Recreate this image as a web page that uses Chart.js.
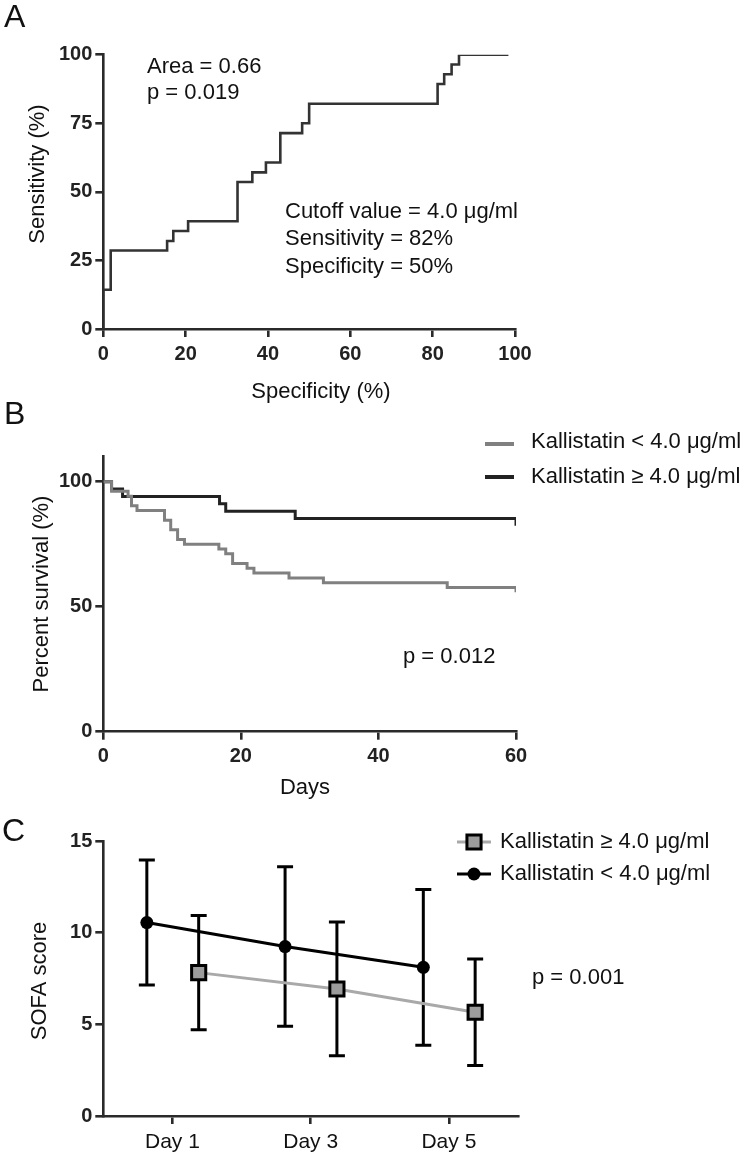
<!DOCTYPE html>
<html><head><meta charset="utf-8">
<script src="https://cdn.jsdelivr.net/npm/chart.js@4/dist/chart.umd.min.js"></script>
<style>
html,body{margin:0;padding:0;background:#fff;}
#wrap{position:relative;width:750px;height:1161px;overflow:hidden;background:#fff;}
#wrap canvas{position:absolute;left:0;top:0;}
</style></head><body>
<div id="wrap">
<canvas id="cA" width="750" height="1161"></canvas>
<canvas id="cB" width="750" height="1161"></canvas>
<canvas id="cC" width="750" height="1161"></canvas>
</div>
<script>
// ---------- Panel A: ROC curve ----------
const rocSpecificity = [0, 0, 1.8, 15.5, 17.0, 20.6, 32.6, 36.2, 39.5, 43.0, 48.3, 50.0, 81.2, 82.8, 84.6, 86.4, 98.4];
const rocSensitivity = [0, 14.3, 28.6, 32.1, 35.7, 39.3, 53.6, 57.1, 60.7, 71.4, 75.0, 82.1, 89.3, 92.9, 96.4, 100, 100];
const rocXTicks = [0, 20, 40, 60, 80, 100];
const rocYTicks = [0, 25, 50, 75, 100];

// ---------- Panel B: Kaplan-Meier ----------
const kmLowDays = [0, 1.2, 3.6, 4.1, 4.9, 8.9, 9.8, 10.8, 11.8, 16.8, 17.8, 18.8, 20.9, 21.9, 27.0, 32.0, 50.0, 60.0];
const kmLowSurv = [100, 96.2, 94.2, 90.4, 88.5, 84.6, 80.8, 76.9, 75.0, 73.1, 71.2, 67.3, 65.4, 63.5, 61.5, 59.6, 57.7, 55.8];
const kmHighDays = [0, 1.2, 2.8, 16.9, 17.8, 27.9, 60.0];
const kmHighSurv = [100, 97.1, 94.1, 91.2, 88.2, 85.3, 82.4];
const kmXTicks = [0, 20, 40, 60];
const kmYTicks = [0, 50, 100];

// ---------- Panel C: SOFA score ----------
const sofaDays = ['Day 1', 'Day 3', 'Day 5'];
const sofaHighMean = [7.82, 6.93, 5.66];
const sofaHighSD = [3.12, 3.65, 2.91];
const sofaLowMean = [10.55, 9.24, 8.11];
const sofaLowSD = [3.41, 4.35, 4.25];
const sofaYTicks = [0, 5, 10, 15];

// ---------- shared styling ----------
const FONT = '"Liberation Sans", Arial, Helvetica, sans-serif';
const AXIS = '#2a2a2a';
const W = 750, H = 1161;

function frame(area) {
  return {
    padding: { left: 0, top: area.top, right: W - area.right, bottom: 0 },
    yFit: s => { s.width = area.left; },
    xFit: s => { s.height = H - area.bottom; }
  };
}
function axis(extra) {
  return Object.assign({
    type: 'linear',
    border: { display: true, color: AXIS, width: 2.6 },
    grid: { drawOnChartArea: false, drawTicks: true, tickLength: 8, color: AXIS, lineWidth: 2.6 },
  }, extra);
}
function tickFont(bold, size) {
  return { family: FONT, size: size, weight: bold ? 'bold' : 'normal' };
}

const textLayer = {
  id: 'textLayer',
  afterDraw(chart, args, opts) {
    const ctx = chart.ctx;
    (opts.items || []).forEach(it => {
      ctx.save();
      ctx.font = it.font || ('22px ' + FONT);
      ctx.fillStyle = it.color || '#111';
      ctx.textAlign = it.align || 'left';
      ctx.textBaseline = 'middle';
      ctx.translate(it.x, it.y);
      if (it.rotate) ctx.rotate(it.rotate * Math.PI / 180);
      ctx.fillText(it.text, 0, 0);
      ctx.restore();
    });
  }
};

const legendLayer = {
  id: 'legendLayer',
  afterDraw(chart, args, opts) {
    const ctx = chart.ctx;
    (opts.items || []).forEach(it => {
      const ds = chart.data.datasets[it.dataset];
      ctx.save();
      ctx.strokeStyle = ds.borderColor;
      ctx.lineWidth = it.lineWidth || ds.borderWidth;
      ctx.beginPath();
      ctx.moveTo(it.x1, it.y); ctx.lineTo(it.x2, it.y);
      ctx.stroke();
      const cx = (it.x1 + it.x2) / 2;
      if (it.marker === 'rect') {
        const s = Math.SQRT1_2 * ds.pointRadius;
        ctx.fillStyle = ds.pointBackgroundColor;
        ctx.strokeStyle = ds.pointBorderColor;
        ctx.lineWidth = ds.pointBorderWidth;
        ctx.beginPath(); ctx.rect(cx - s, it.y - s, 2 * s, 2 * s); ctx.fill(); ctx.stroke();
      } else if (it.marker === 'circle') {
        ctx.fillStyle = ds.pointBackgroundColor;
        ctx.beginPath(); ctx.arc(cx, it.y, ds.pointRadius, 0, Math.PI * 2); ctx.fill();
      }
      ctx.fillStyle = '#111';
      ctx.font = '22px ' + FONT;
      ctx.textAlign = 'left';
      ctx.textBaseline = 'middle';
      ctx.fillText(it.text, it.tx, it.ty);
      ctx.restore();
    });
  }
};

const errorBars = {
  id: 'errorBars',
  beforeDatasetsDraw(chart, args, opts) {
    const ctx = chart.ctx, x = chart.scales.x, y = chart.scales.y;
    chart.data.datasets.forEach(ds => {
      if (!ds.errors) return;
      ctx.save();
      ctx.strokeStyle = opts.color; ctx.lineWidth = opts.width;
      ds.data.forEach((p, j) => {
        const px = x.getPixelForValue(p.x);
        const top = y.getPixelForValue(p.y + ds.errors[j]);
        const bot = y.getPixelForValue(p.y - ds.errors[j]);
        ctx.beginPath();
        ctx.moveTo(px, top); ctx.lineTo(px, bot);
        ctx.moveTo(px - opts.cap, top); ctx.lineTo(px + opts.cap, top);
        ctx.moveTo(px - opts.cap, bot); ctx.lineTo(px + opts.cap, bot);
        ctx.stroke();
      });
      ctx.restore();
    });
  }
};

const common = { responsive: false, animation: false, devicePixelRatio: 1, events: [] };
const noDefaults = { legend: { display: false }, tooltip: { enabled: false } };

// ---------- Chart A ----------
const fA = frame({ left: 103.3, right: 515, top: 54.7, bottom: 329 });
new Chart(document.getElementById('cA'), {
  type: 'line',
  data: {
    datasets: [{
      data: rocSpecificity.map((v, i) => ({ x: v, y: rocSensitivity[i] })),
      borderColor: '#333', borderWidth: 2.6, pointRadius: 0, stepped: 'before', fill: false
    }]
  },
  options: Object.assign({}, common, {
    layout: { padding: fA.padding },
    scales: {
      x: axis({ min: 0, max: 100, afterFit: fA.xFit,
        afterBuildTicks: s => { s.ticks = rocXTicks.map(v => ({ value: v })); },
        ticks: { font: tickFont(true, 20), color: '#222', padding: 5, maxRotation: 0 } }),
      y: axis({ min: 0, max: 100, afterFit: fA.yFit,
        afterBuildTicks: s => { s.ticks = rocYTicks.map(v => ({ value: v })); },
        ticks: { font: tickFont(true, 20), color: '#222', padding: 3 } })
    },
    plugins: Object.assign({}, noDefaults, {
      textLayer: { items: [
        { text: 'A', x: 4, y: 18, font: '32px ' + FONT },
        { text: 'Sensitivity (%)', x: 38, y: 174, rotate: -90, align: 'center' },
        { text: 'Specificity (%)', x: 321, y: 392, align: 'center' },
        { text: 'Area = 0.66', x: 147, y: 67 },
        { text: 'p = 0.019', x: 147, y: 93 },
        { text: 'Cutoff value = 4.0 \u03bcg/ml', x: 285, y: 212 },
        { text: 'Sensitivity = 82%', x: 285, y: 239 },
        { text: 'Specificity = 50%', x: 285, y: 267 }
      ] }
    })
  }),
  plugins: [textLayer]
});

// ---------- Chart B ----------
const fB = frame({ left: 103.3, right: 516, top: 456.7, bottom: 731.7 });
new Chart(document.getElementById('cB'), {
  type: 'line',
  data: {
    datasets: [{
      data: kmLowDays.map((v, i) => ({ x: v, y: kmLowSurv[i] })),
      borderColor: '#808080', borderWidth: 3, pointRadius: 0, stepped: 'before', fill: false
    }, {
      data: kmHighDays.map((v, i) => ({ x: v, y: kmHighSurv[i] })),
      borderColor: '#222222', borderWidth: 3, pointRadius: 0, stepped: 'before', fill: false
    }]
  },
  options: Object.assign({}, common, {
    layout: { padding: fB.padding },
    scales: {
      x: axis({ min: 0, max: 60, afterFit: fB.xFit,
        afterBuildTicks: s => { s.ticks = kmXTicks.map(v => ({ value: v })); },
        ticks: { font: tickFont(true, 20), color: '#222', padding: 5, maxRotation: 0 } }),
      y: axis({ min: 0, max: 110, afterFit: fB.yFit,
        afterBuildTicks: s => { s.ticks = kmYTicks.map(v => ({ value: v })); },
        ticks: { font: tickFont(true, 20), color: '#222', padding: 3 } })
    },
    plugins: Object.assign({}, noDefaults, {
      textLayer: { items: [
        { text: 'B', x: 4, y: 415, font: '32px ' + FONT },
        { text: 'Percent survival (%)', x: 42, y: 594, rotate: -90, align: 'center' },
        { text: 'Days', x: 305, y: 788, align: 'center' },
        { text: 'p = 0.012', x: 403, y: 657 }
      ] },
      legendLayer: { items: [
        { dataset: 0, x1: 485, x2: 514, y: 444, lineWidth: 4, text: 'Kallistatin < 4.0 \u03bcg/ml', tx: 531, ty: 442 },
        { dataset: 1, x1: 485, x2: 514, y: 477, lineWidth: 4, text: 'Kallistatin \u2265 4.0 \u03bcg/ml', tx: 531, ty: 477 }
      ] }
    })
  }),
  plugins: [textLayer, legendLayer]
});

// ---------- Chart C ----------
const fC = frame({ left: 103.3, right: 518, top: 841, bottom: 1116 });
const lowShift = -0.185, highShift = 0.19;
new Chart(document.getElementById('cC'), {
  type: 'line',
  data: {
    datasets: [{
      data: sofaLowMean.map((v, i) => ({ x: i + lowShift, y: v })),
      errors: sofaLowSD,
      borderColor: '#000', borderWidth: 3,
      pointStyle: 'circle', pointRadius: 6.5, pointBackgroundColor: '#000', pointBorderColor: '#000', pointBorderWidth: 0
    }, {
      data: sofaHighMean.map((v, i) => ({ x: i + highShift, y: v })),
      errors: sofaHighSD,
      borderColor: '#a9a9a9', borderWidth: 3,
      pointStyle: 'rect', pointRadius: 10, pointBackgroundColor: '#9c9c9c', pointBorderColor: '#000', pointBorderWidth: 3
    }]
  },
  options: Object.assign({}, common, {
    layout: { padding: fC.padding },
    scales: {
      x: axis({ min: -0.5, max: 2.5, afterFit: fC.xFit,
        afterBuildTicks: s => { s.ticks = sofaDays.map((d, i) => ({ value: i })); },
        ticks: { font: tickFont(false, 21), color: '#111', padding: 6, maxRotation: 0,
          callback: v => sofaDays[v] } }),
      y: axis({ min: 0, max: 15, afterFit: fC.yFit,
        afterBuildTicks: s => { s.ticks = sofaYTicks.map(v => ({ value: v })); },
        ticks: { font: tickFont(true, 20), color: '#222', padding: 3 } })
    },
    plugins: Object.assign({}, noDefaults, {
      errorBars: { color: '#000', width: 3, cap: 8 },
      textLayer: { items: [
        { text: 'C', x: 2, y: 832, font: '32px ' + FONT },
        { text: 'SOFA score', x: 40, y: 981, rotate: -90, align: 'center' },
        { text: 'p = 0.001', x: 532, y: 978 }
      ] },
      legendLayer: { items: [
        { dataset: 1, x1: 457, x2: 491, y: 842, marker: 'rect', text: 'Kallistatin \u2265 4.0 \u03bcg/ml', tx: 500, ty: 842 },
        { dataset: 0, x1: 457, x2: 491, y: 874, marker: 'circle', text: 'Kallistatin < 4.0 \u03bcg/ml', tx: 500, ty: 874 }
      ] }
    })
  }),
  plugins: [errorBars, textLayer, legendLayer]
});
</script>
</body></html>
